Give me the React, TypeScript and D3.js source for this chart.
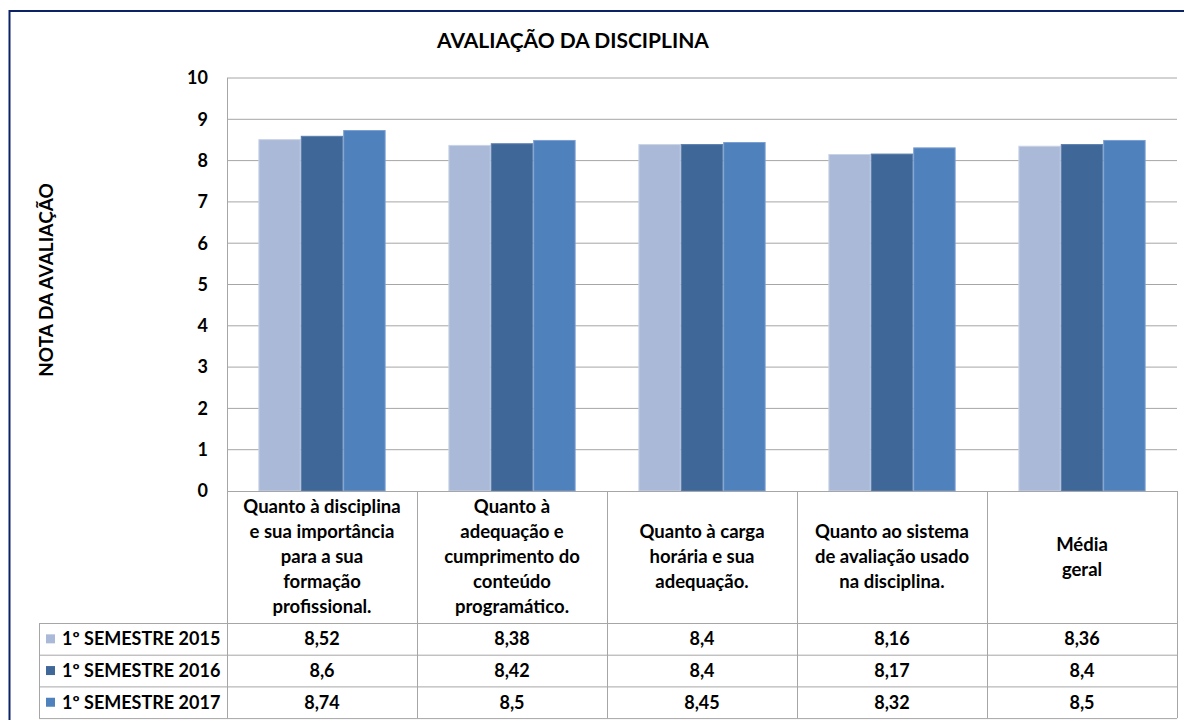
import React from "react";
import * as d3 from "d3";

const title = "AVALIAÇÃO DA DISCIPLINA";
const yTitle = "NOTA DA AVALIAÇÃO";
const categories: string[][] = [
  ["Quanto à disciplina", "e sua importância", "para a sua", "formação", "profissional."],
  ["Quanto à", "adequação e", "cumprimento do", "conteúdo", "programático."],
  ["Quanto à carga", "horária e sua", "adequação."],
  ["Quanto ao sistema", "de avaliação usado", "na disciplina."],
  ["Média", "geral"],
];
const seriesNames = ["1º SEMESTRE 2015", "1º SEMESTRE 2016", "1º SEMESTRE 2017"];
const s2015 = [8.52, 8.38, 8.4, 8.16, 8.36];
const s2016 = [8.6, 8.42, 8.4, 8.17, 8.4];
const s2017 = [8.74, 8.5, 8.45, 8.32, 8.5];
const yTicks = [0, 1, 2, 3, 4, 5, 6, 7, 8, 9, 10];
const colors = ["#AAB9D7", "#3F6899", "#4F81BD"];
const strokes = ["#C9D3E7", "#5A7FAD", "#7A9FD0"];

const W = 1184;
const H = 720;
const FONT = "Lato, 'Open Sans', sans-serif";

export default function App() {
  const series = [s2015, s2016, s2017];
  const left = 227;
  const right = 1177;
  const top = 78;
  const bottom = 491;
  const tableLeft = 39;
  const catRowBottom = 623;
  const rowH = 31.7;

  const y = d3.scaleLinear().domain([0, 10]).range([bottom, top]);
  const x0 = d3.scaleBand<number>().domain(d3.range(categories.length)).range([left, right]).paddingInner(0).paddingOuter(0);
  const x1 = d3.scaleBand<number>().domain([0, 1, 2]).range([0, x0.bandwidth()]).paddingOuter(0.74).paddingInner(0);

  const fmt = (v: number) => String(v).replace(".", ",");
  const grid = "#A6A6A6";
  const tableLine = "#A6A6A6";

  const rowTops = seriesNames.map((_, i) => catRowBottom + i * rowH);
  const tableBottom = catRowBottom + seriesNames.length * rowH;
  const fs = 18.5;

  return (
    <svg width={W} height={H} style={{ position: "absolute", left: 0, top: 0, background: "#fff" }} fontFamily={FONT}>
      <rect x={0} y={0} width={W} height={H} fill="#fff" />
      <rect x={9.5} y={11} width={W + 20} height={H + 20} fill="none" stroke="#0C2266" strokeWidth={2} />
      <text x={573} y={48} textAnchor="middle" fontSize={21} fontWeight={700} fill="#000">{title}</text>
      <text transform={`translate(53,${280}) rotate(-90)`} textAnchor="middle" fontSize={19} fontWeight={700} fill="#000">{yTitle}</text>

      {/* gridlines */}
      {yTicks.map((t) => (
        <g key={t}>
          {t > 0 && <line x1={left} x2={right} y1={y(t)} y2={y(t)} stroke={grid} strokeWidth={1} />}
          <text x={208} y={y(t)} dy="0.35em" textAnchor="end" fontSize={18} fontWeight={700} fill="#000">{t}</text>
        </g>
      ))}

      {/* bars */}
      {categories.map((_, ci) => (
        <g key={ci} transform={`translate(${x0(ci)},0)`}>
          {series.map((s, si) => (
            <rect key={si} x={(x1(si) as number) + 0.5} y={y(s[ci]) + 0.5} width={x1.bandwidth() - 1} height={bottom - y(s[ci]) - 0.5}
              fill={colors[si]} stroke={strokes[si]} strokeWidth={1} />
          ))}
        </g>
      ))}

      {/* table */}
      <g stroke={tableLine} strokeWidth={1} fill="none">
        <line x1={left} x2={right} y1={bottom + 0.5} y2={bottom + 0.5} />
        <line x1={left + 0.5} x2={left + 0.5} y1={top} y2={tableBottom} />
        {categories.map((_, ci) => (
          <line key={ci} x1={(x0(ci) as number) + x0.bandwidth() + 0.5} x2={(x0(ci) as number) + x0.bandwidth() + 0.5} y1={bottom} y2={tableBottom} />
        ))}
        <line x1={tableLeft + 0.5} x2={tableLeft + 0.5} y1={catRowBottom} y2={tableBottom} />
        {rowTops.map((rt, i) => (
          <line key={i} x1={tableLeft} x2={right} y1={rt + 0.5} y2={rt + 0.5} />
        ))}
        <line x1={tableLeft} x2={right} y1={tableBottom + 0.5} y2={tableBottom + 0.5} />
      </g>

      {/* category labels */}
      {categories.map((lines, ci) => {
        const cx = (x0(ci) as number) + x0.bandwidth() / 2;
        const cy = (bottom + catRowBottom) / 2;
        const lh = 25;
        const start = cy - ((lines.length - 1) * lh) / 2;
        return (
          <text key={ci} textAnchor="middle" fontSize={fs} fontWeight={700} fill="#000">
            {lines.map((l, li) => (
              <tspan key={li} x={cx} y={start + li * lh} dy="0.35em">{l}</tspan>
            ))}
          </text>
        );
      })}

      {/* legend rows + values */}
      {seriesNames.map((name, si) => {
        const cy = rowTops[si] + rowH / 2;
        return (
          <g key={si}>
            <rect x={46} y={cy - 4.5} width={9} height={9} fill={colors[si]} />
            <text x={62} y={cy} dy="0.35em" fontSize={18} fontWeight={700} fill="#000">{name}</text>
            {series[si].map((v, ci) => (
              <text key={ci} x={(x0(ci) as number) + x0.bandwidth() / 2} y={cy} dy="0.35em" textAnchor="middle" fontSize={18} fontWeight={700} fill="#000">{fmt(v)}</text>
            ))}
          </g>
        );
      })}
    </svg>
  );
}
